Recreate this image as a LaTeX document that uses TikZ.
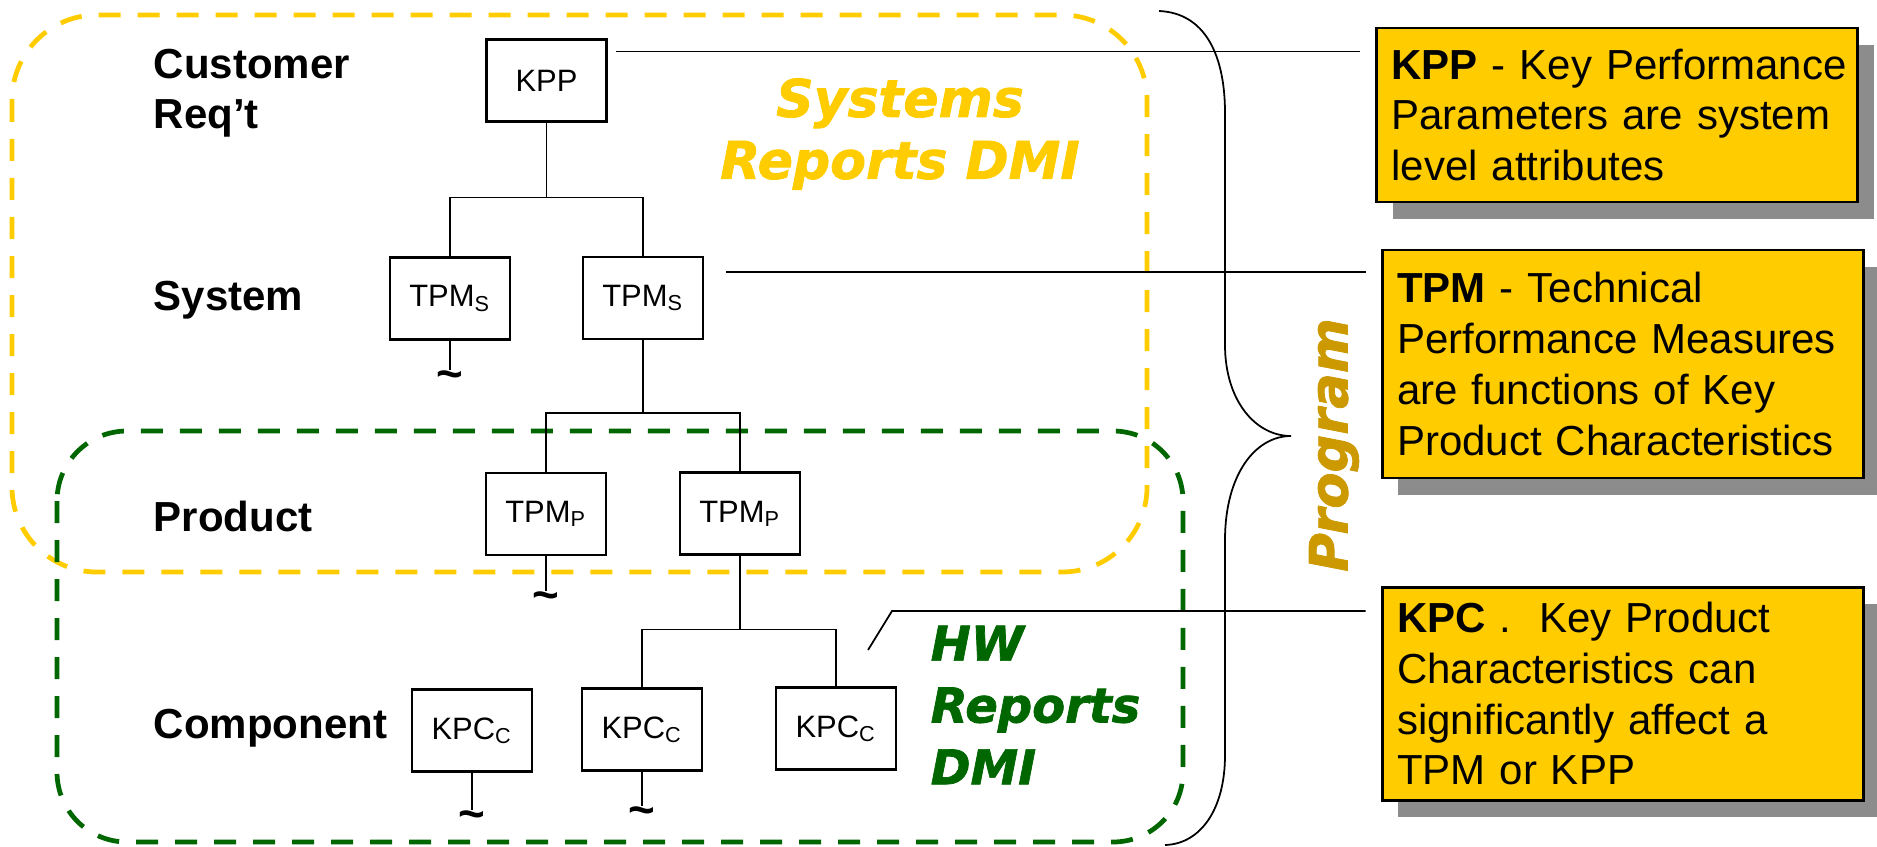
\documentclass[tikz,border=0pt]{standalone}
\usepackage{fontspec}
\setmainfont{Liberation Sans}
\newfontfamily\heavyfont{DejaVu Sans}[BoldItalicFeatures={FakeBold=1.5}]
\usepackage{xcolor}
\definecolor{ColY}{RGB}{255,204,0}
\definecolor{ColG}{RGB}{0,102,0}
\definecolor{ColP}{RGB}{204,153,0}
\usepackage{tikz}
\usetikzlibrary{shadows}
\tikzstyle{Box}=[draw,line width=.6pt,minimum width=1.2cm,minimum height=.82cm,
inner sep=0pt,font=\fontsize{8.8}{10.5}\selectfont]
\tikzstyle{Edge}=[draw,line width=.5pt]
\tikzstyle{Tilde}=[inner sep=0pt,font=\fontsize{13}{13}\selectfont\bfseries]
\tikzstyle{Level}=[anchor=base west,inner sep=0pt,align=left,
font=\fontsize{11.95}{14.2}\selectfont\bfseries]
\tikzstyle{Zone}=[line width=1.35pt,dash pattern=on .22cm off .17cm]
\tikzstyle{ZoneText}=[inner sep=0pt]
\tikzstyle{Def}=[draw,fill=ColY,line width=.85pt,text width=4.51cm,inner xsep=.15cm,
align=left,font=\fontsize{11.95}{14.5}\selectfont,
drop shadow={shadow xshift=.16cm,shadow yshift=-.17cm,fill=black!45,opacity=1}]

\begin{document}
\begin{tikzpicture}
            \useasboundingbox(0,0)rectangle(18.77,-8.46);
            % zones
            \draw[Zone,draw=ColY,rounded corners=.85cm](0.12,-0.15)rectangle(11.47,-5.72);
            \draw[Zone,draw=ColG,rounded corners=.7cm](0.57,-4.31)rectangle(11.83,-8.42);
            \node[ZoneText,text=ColY,align=center,
                font=\heavyfont\bfseries\itshape\fontsize{14.8}{17.6}\selectfont]
                (sysdmi)at(9.00,-1.34){Systems\\Reports DMI};
            \node[ZoneText,text=ColG,align=left,anchor=west,
                font=\heavyfont\bfseries\itshape\fontsize{13.65}{17.6}\selectfont]
                (hwdmi)at(9.30,-7.05){HW\\Reports\\DMI};
            % levels
            \node[Level,anchor=west](lcust)at(1.53,-0.93){Customer\\Req't};
            \node[Level](lsys)at(1.53,-3.10){System};
            \node[Level](lprod)at(1.53,-5.31){Product};
            \node[Level](lcomp)at(1.53,-7.38){Component};
            % tree
            \node[Box](kpp)at(5.465,-0.805){KPP};
            \node[Box](s1)at(4.50,-2.985){TPM\textsubscript{S}};
            \node[Box](s2)at(6.43,-2.98){TPM\textsubscript{S}};
            \node[Box](p1)at(5.46,-5.14){TPM\textsubscript{P}};
            \node[Box](p2)at(7.40,-5.135){TPM\textsubscript{P}};
            \node[Box](c1)at(4.72,-7.305){KPC\textsubscript{C}};
            \node[Box](c2)at(6.42,-7.295){KPC\textsubscript{C}};
            \node[Box](c3)at(8.36,-7.285){KPC\textsubscript{C}};
            \draw[Edge](kpp.south)--++(0,-0.75)-|(s1.north);
            \draw[Edge](kpp.south)--++(0,-0.75)-|(s2.north);
            \draw[Edge](s2.south)--++(0,-0.73)-|(p1.north);
            \draw[Edge](s2.south)--++(0,-0.73)-|(p2.north);
            \draw[Edge](p2.south)--++(0,-0.74)-|(c2.north);
            \draw[Edge](p2.south)--++(0,-0.74)-|(c3.north);
            \node[Tilde](ts1)at(4.50,-3.80){\textasciitilde};
            \node[Tilde](tp1)at(5.46,-6.01){\textasciitilde};
            \node[Tilde](tc1)at(4.72,-8.20){\textasciitilde};
            \node[Tilde](tc2)at(6.42,-8.16){\textasciitilde};
            \draw[Edge](s1.south)--(ts1.north);
            \draw[Edge](p1.south)--(tp1.north);
            \draw[Edge](c1.south)--(tc1.north);
            \draw[Edge](c2.south)--(tc2.north);
            % program brace
            \draw[Edge](11.59,-0.11)..controls(12.05,-0.13)and(12.25,-0.55)..(12.25,-1.13)
                --(12.25,-3.45)..controls(12.25,-4.00)and(12.55,-4.36)..(12.91,-4.36)
                ..controls(12.55,-4.36)and(12.25,-4.75)..(12.25,-5.40)
                --(12.25,-7.55)..controls(12.25,-8.10)and(12.00,-8.44)..(11.65,-8.45);
            \node[ZoneText,text=ColP,rotate=90,
                font=\heavyfont\bfseries\itshape\fontsize{15}{15}\selectfont]
                (prog)at(13.34,-4.45){Program};
            % definitions
            \node[Def,minimum height=1.74cm](kppdef)at(16.17,-1.15)
                {\mbox{\textbf{KPP} - Key Performance}\\Parameters are system\\level attributes};
            \node[Def,minimum height=2.28cm](tpmdef)at(16.225,-3.64)
                {\textbf{TPM} - Technical\\Performance Measures\\are functions of Key\\Product Characteristics};
            \node[Def,minimum height=2.13cm](kpcdef)at(16.225,-6.935)
                {\textbf{KPC} .\ \ Key Product\\Characteristics can\\significantly affect a\\TPM or KPP};
            \coordinate(kppend)at(6.16,-0.515);
            \coordinate(tpmend)at(7.26,-2.72);
            \coordinate(kpcend)at(8.68,-6.50);
            \coordinate(kpcbend)at(8.92,-6.11);
            \draw[Edge,shorten >=.15cm](kppend)--(kppend-|kppdef.west);
            \draw[Edge,shorten >=.15cm](tpmend)--(tpmend-|tpmdef.west);
            \draw[Edge,shorten >=.15cm](kpcend)--(kpcbend)--(kpcbend-|kpcdef.west);
        \end{tikzpicture}
\end{document}
